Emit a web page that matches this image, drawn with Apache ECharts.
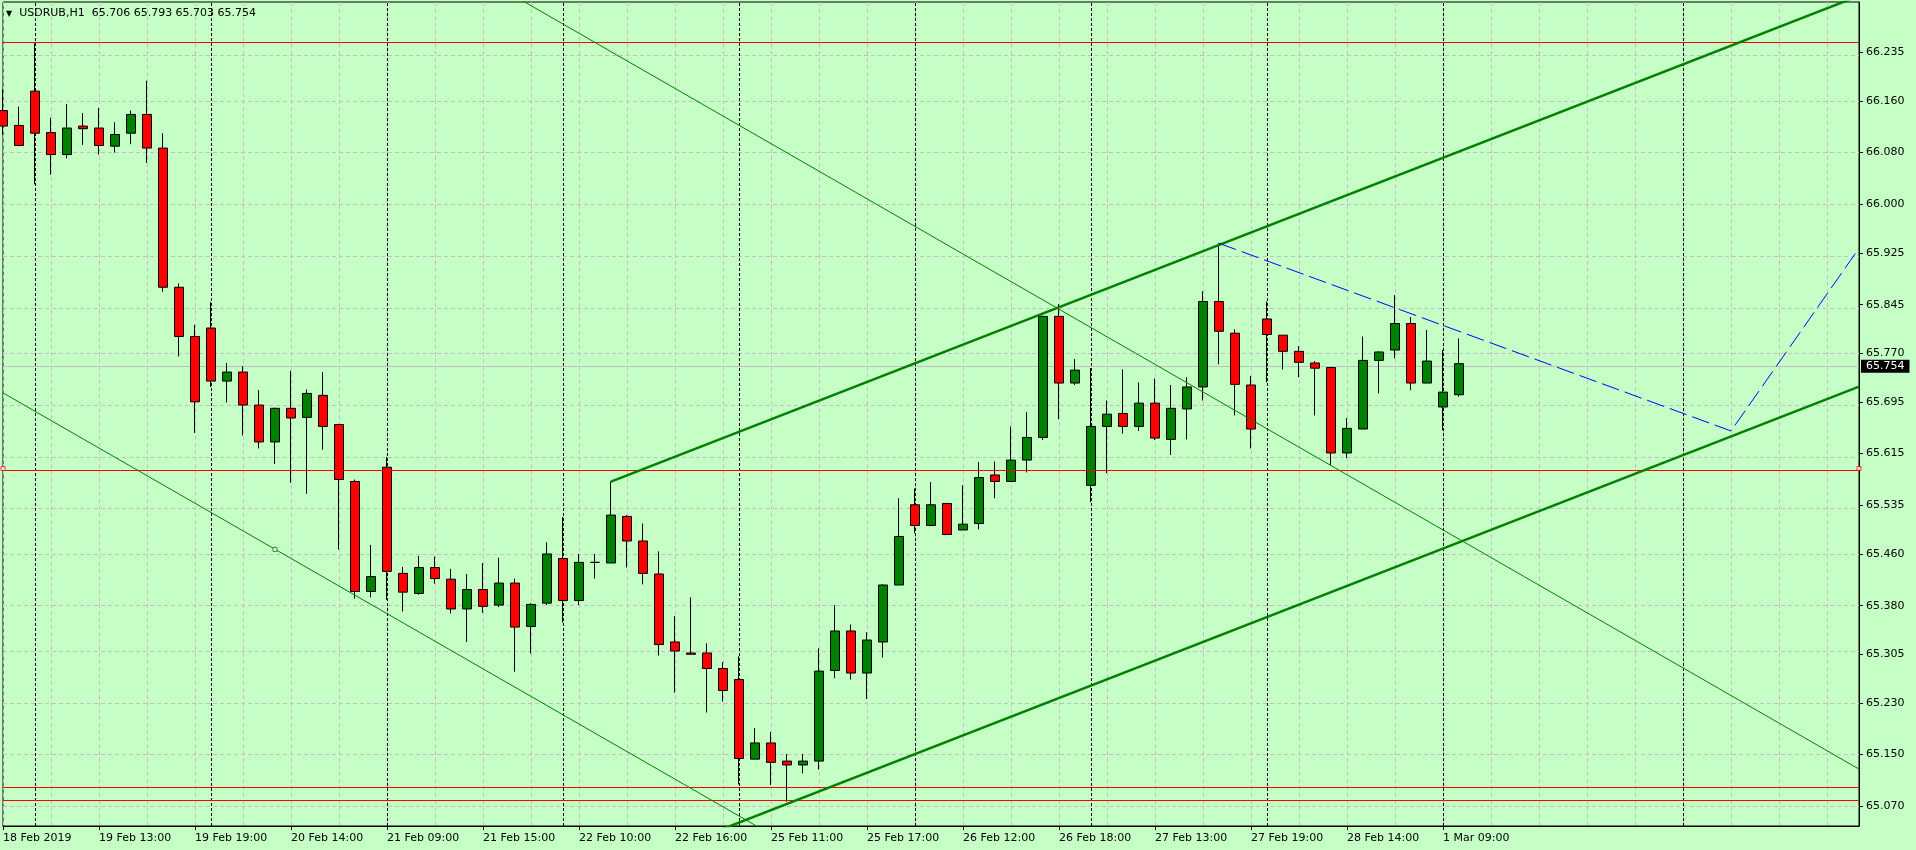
<!DOCTYPE html>
<html>
<head>
<meta charset="utf-8">
<script src="https://cdn.jsdelivr.net/npm/echarts@6/dist/echarts.min.js"></script>
<style>
html,body{margin:0;padding:0;background:#C5FFC5;}
#chart{width:1916px;height:850px;}
</style>
</head>
<body>
<div id="chart"></div>
<script>
// ---------- data ----------
const symbolName = 'USDRUB,H1';

const xTickLabels = ['18 Feb 2019','19 Feb 13:00','19 Feb 19:00','20 Feb 14:00','21 Feb 09:00',
  '21 Feb 15:00','22 Feb 10:00','22 Feb 16:00','25 Feb 11:00','25 Feb 17:00','26 Feb 12:00',
  '26 Feb 18:00','27 Feb 13:00','27 Feb 19:00','28 Feb 14:00','1 Mar 09:00'];

const yTickValues = [65.070, 65.150, 65.230, 65.305, 65.380, 65.460, 65.535, 65.615,
  65.695, 65.770, 65.845, 65.925, 66.000, 66.080, 66.160, 66.235];

const barOpen = [66.145,66.122,66.175,66.111,66.077,66.121,66.118,66.090,66.110,66.139,
  66.087,65.872,65.796,65.809,65.727,65.741,65.690,65.633,65.685,65.671,
  65.705,65.660,65.572,65.402,65.594,65.430,65.399,65.439,65.421,65.375,
  65.405,65.381,65.415,65.348,65.384,65.453,65.388,65.447,65.446,65.518,
  65.480,65.429,65.324,65.307,65.307,65.283,65.266,65.143,65.168,65.140,
  65.134,65.140,65.280,65.341,65.276,65.324,65.412,65.536,65.504,65.538,
  65.497,65.507,65.582,65.572,65.605,65.640,65.827,65.724,65.566,65.657,
  65.677,65.657,65.693,65.637,65.684,65.718,65.850,65.801,65.721,65.823,
  65.798,65.773,65.755,65.748,65.616,65.653,65.759,65.775,65.816,65.724,
  65.687,65.706];
const barHigh = [66.178,66.151,66.249,66.134,66.155,66.141,66.149,66.127,66.145,66.191,
  66.110,65.878,65.814,65.849,65.755,65.750,65.713,65.686,65.743,65.714,
  65.741,65.661,65.575,65.474,65.610,65.440,65.457,65.456,65.437,65.429,
  65.446,65.454,65.422,65.384,65.478,65.517,65.460,65.460,65.572,65.520,
  65.507,65.464,65.364,65.393,65.322,65.293,65.302,65.191,65.185,65.151,
  65.151,65.314,65.381,65.351,65.339,65.413,65.546,65.561,65.571,65.538,
  65.566,65.602,65.603,65.657,65.679,65.828,65.846,65.761,65.747,65.697,
  65.745,65.725,65.731,65.721,65.733,65.866,65.940,65.807,65.735,65.850,
  65.798,65.781,65.758,65.748,65.670,65.796,65.773,65.860,65.826,65.806,
  65.775,65.793];
const barLow = [66.108,66.090,66.031,66.046,66.071,66.092,66.077,66.080,66.093,66.064,
  65.865,65.765,65.647,65.718,65.694,65.643,65.623,65.599,65.570,65.553,
  65.621,65.467,65.391,65.393,65.389,65.371,65.397,65.414,65.368,65.324,
  65.369,65.378,65.278,65.306,65.381,65.354,65.381,65.422,65.446,65.439,
  65.413,65.303,65.246,65.305,65.215,65.232,65.104,65.143,65.103,65.077,
  65.121,65.127,65.268,65.266,65.236,65.300,65.412,65.492,65.503,65.490,
  65.497,65.498,65.546,65.571,65.586,65.636,65.668,65.721,65.540,65.585,
  65.646,65.650,65.636,65.613,65.637,65.697,65.753,65.674,65.623,65.725,
  65.745,65.733,65.674,65.597,65.608,65.653,65.708,65.762,65.713,65.724,
  65.651,65.703];
const barClose = [66.121,66.091,66.110,66.077,66.118,66.117,66.091,66.108,66.139,66.087,
  65.872,65.796,65.695,65.727,65.741,65.690,65.633,65.685,65.670,65.708,
  65.657,65.575,65.402,65.425,65.433,65.401,65.439,65.422,65.375,65.405,
  65.379,65.415,65.347,65.382,65.460,65.388,65.447,65.447,65.520,65.480,
  65.430,65.320,65.310,65.305,65.283,65.249,65.144,65.168,65.138,65.134,
  65.140,65.279,65.341,65.276,65.327,65.412,65.487,65.504,65.536,65.490,
  65.506,65.578,65.572,65.605,65.640,65.827,65.724,65.744,65.657,65.676,
  65.657,65.693,65.639,65.685,65.718,65.850,65.804,65.722,65.653,65.799,
  65.773,65.756,65.747,65.616,65.654,65.759,65.772,65.816,65.724,65.758,
  65.710,65.754];

const slotCount = 117;                                  // bar slots incl. empty future space
const daySeparators = [2, 13, 24, 35, 46, 57, 68, 79, 90, 105];
const redLevels = [66.249, 65.592, 65.1046, 65.0783];
const bidPrice = 65.754;
const channelUpper = [[38, 65.5716], [116, 66.3222]];
const channelLower = [[38, 64.9680], [116, 65.7186]];
const trendA = [[0, 65.7088], [56, 64.9131]];
const trendB = [[30, 66.3497], [116, 65.1276]];
const blueDashed = [[76, 65.9399], [108, 65.6500], [116, 65.9322]];
const redLineHandles = [[0.14, 65.592], [115.86, 65.592]];
const trendAHandle = [[17, 65.467]];
const yMin = 65.0397, yMax = 66.3127;

// ---------- chart ----------
const FONT = 'DejaVu Sans';
const GRID_COLOR = '#C0C0C0';
const categories = Array.from({length: slotCount}, (_, i) => String(i));
const candleData = barOpen.map((o, i) => [o, barClose[i], barLow[i], barHigh[i]]);
const last = barOpen.length - 1;
const headerText = symbolName + '  ' + [barOpen[last], barHigh[last], barLow[last], barClose[last]]
  .map(v => v.toFixed(3)).join(' ');

const isLabelSlot = (idx) => idx % 6 === 0 && idx / 6 < xTickLabels.length;

const chart = echarts.init(document.getElementById('chart'), null, {renderer: 'canvas'});
chart.setOption({
  animation: false,
  backgroundColor: '#C5FFC5',
  title: {
    left: 6, top: 8, padding: 0,
    text: '{tri|▼}  ' + headerText,
    textStyle: {
      fontFamily: FONT, fontSize: 11, fontWeight: 'normal', color: '#000',
      rich: { tri: { fontSize: 8, color: '#000', fontFamily: FONT } }
    }
  },
  grid: {
    left: 3, top: 2, width: 1856, height: 824,
    show: true, borderColor: '#000', borderWidth: 1, backgroundColor: 'transparent'
  },
  xAxis: {
    type: 'category', data: categories, boundaryGap: false,
    axisLine: { show: true, lineStyle: { color: '#000', width: 1 } },
    axisTick: { show: true, length: 4, interval: (idx) => isLabelSlot(idx), lineStyle: { color: '#000' } },
    axisLabel: {
      interval: (idx) => isLabelSlot(idx),
      formatter: (value, idx) => (isLabelSlot(idx) ? xTickLabels[idx / 6] : ''),
      align: 'left', margin: 7, color: '#000', fontFamily: FONT, fontSize: 11
    },
    splitLine: { show: true, interval: (idx) => idx % 3 === 0,
      lineStyle: { color: GRID_COLOR, type: [4, 3], width: 1 } }
  },
  yAxis: {
    type: 'value', position: 'right', min: yMin, max: yMax,
    axisLine: { show: true, lineStyle: { color: '#000', width: 1 } },
    axisTick: { show: true, length: 4, customValues: yTickValues, lineStyle: { color: '#000' } },
    axisLabel: { customValues: yTickValues, formatter: (v) => v.toFixed(3), margin: 7,
      color: '#000', fontFamily: FONT, fontSize: 11 },
    splitLine: { show: false }
  },
  series: [
    {
      name: 'hgrid', type: 'line', data: [], silent: true,
      markLine: {
        silent: true, z: 0.5, symbol: ['none', 'none'], label: { show: false },
        lineStyle: { color: GRID_COLOR, type: [4, 3], width: 1 },
        data: yTickValues.map(v => ({ yAxis: v }))
      }
    },
    {
      name: 'separators', type: 'line', data: [], silent: true,
      markLine: {
        silent: true, z: 1, symbol: ['none', 'none'], label: { show: false },
        lineStyle: { color: '#000', type: [3, 2], width: 1 },
        data: daySeparators.map(i => ({ xAxis: i }))
      }
    },
    {
      name: 'bid', type: 'line', data: [], silent: true,
      markLine: {
        silent: true, z: 1, symbol: ['none', 'none'],
        lineStyle: { color: '#C0C0C0', type: 'solid', width: 1 },
        label: {
          show: true, position: 'end', distance: 2,
          formatter: () => bidPrice.toFixed(3),
          backgroundColor: '#000', color: '#fff', padding: [1, 5, 0, 5],
          fontFamily: FONT, fontSize: 11, lineHeight: 12
        },
        data: [{ yAxis: bidPrice }]
      }
    },
    {
      name: symbolName, type: 'candlestick', data: candleData, z: 2, barWidth: 10,
      itemStyle: {
        color: '#008000', color0: '#FF0000',
        borderColor: '#000', borderColor0: '#000', borderColorDoji: '#000', borderWidth: 1
      }
    },
    {
      name: 'levels', type: 'line', data: [], silent: true,
      markLine: {
        silent: true, z: 4, symbol: ['none', 'none'], label: { show: false },
        lineStyle: { color: '#FF0000', type: 'solid', width: 1 },
        data: redLevels.map(v => ({ yAxis: v }))
      }
    },
    { name: 'channelUpper', type: 'line', data: channelUpper, symbol: 'none', z: 5, silent: true,
      lineStyle: { color: '#008000', width: 2.5 } },
    { name: 'channelLower', type: 'line', data: channelLower, symbol: 'none', z: 5, silent: true,
      lineStyle: { color: '#008000', width: 2.5 } },
    { name: 'trendA', type: 'line', data: trendA, symbol: 'none', z: 5, silent: true,
      lineStyle: { color: '#008000', width: 1 } },
    { name: 'trendB', type: 'line', data: trendB, symbol: 'none', z: 5, silent: true,
      lineStyle: { color: '#008000', width: 1 } },
    { name: 'blueDashed', type: 'line', data: blueDashed, symbol: 'none', z: 5, silent: true,
      lineStyle: { color: '#0000FF', width: 1, type: [18, 6] } },
    { name: 'redHandles', type: 'scatter', data: redLineHandles, symbol: 'rect', symbolSize: 4, z: 6,
      silent: true, itemStyle: { color: '#FFFFFF', borderColor: '#FF0000', borderWidth: 1 } },
    { name: 'trendHandle', type: 'scatter', data: trendAHandle, symbol: 'rect', symbolSize: 4, z: 6,
      silent: true, itemStyle: { color: '#FFFFFF', borderColor: '#008000', borderWidth: 1 } }
  ]
});
</script>
</body>
</html>
